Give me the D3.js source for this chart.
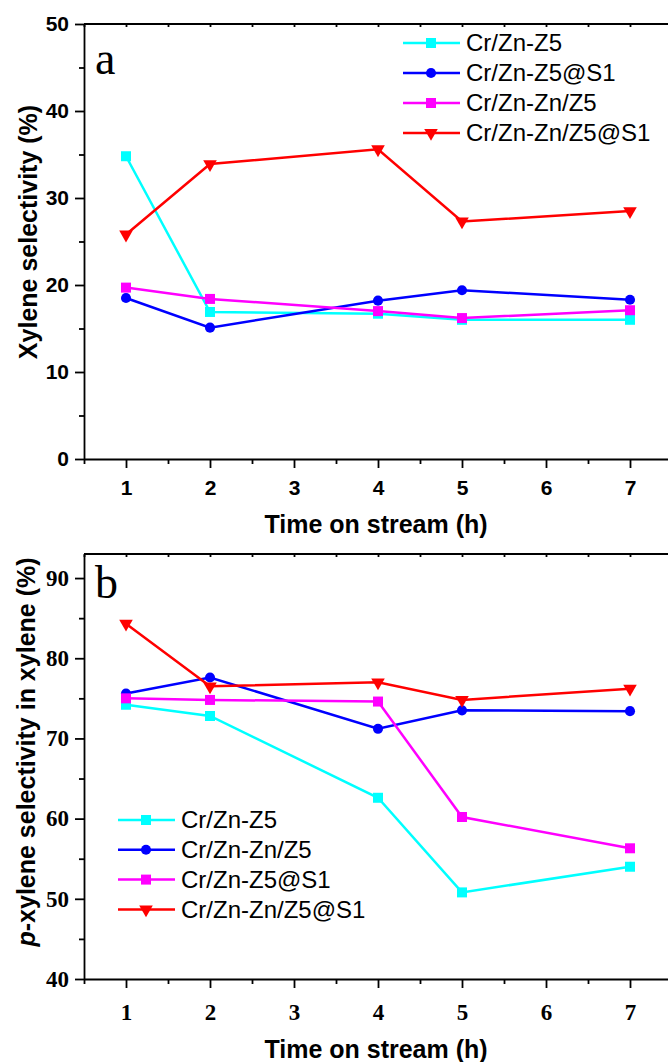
<!DOCTYPE html>
<html>
<head>
<meta charset="utf-8">
<script src="https://cdn.jsdelivr.net/npm/d3@7"></script>
<style>
  body { margin: 0; background: #fff; }
  svg { display: block; }
</style>
</head>
<body>
<div id="chart"></div>
<script>
// data
let hours = [1, 2, 4, 5, 7]
let xTickValues = [1, 2, 3, 4, 5, 6, 7]

// panel a: xylene selectivity (%)
let namesA = ['Cr/Zn-Z5', 'Cr/Zn-Z5@S1', 'Cr/Zn-Zn/Z5', 'Cr/Zn-Zn/Z5@S1']
let a_CrZnZ5 = [34.8, 16.9, 16.7, 16.0, 16.0]
let a_CrZnZ5S1 = [18.5, 15.1, 18.2, 19.4, 18.3]
let a_CrZnZnZ5 = [19.7, 18.4, 17.0, 16.2, 17.1]
let a_CrZnZnZ5S1 = [25.8, 33.9, 35.6, 27.3, 28.5]
let yTicksA = [0, 10, 20, 30, 40, 50]

// panel b: p-xylene selectivity in xylene (%)
let namesB = ['Cr/Zn-Z5', 'Cr/Zn-Zn/Z5', 'Cr/Zn-Z5@S1', 'Cr/Zn-Zn/Z5@S1']
let b_CrZnZ5 = [74.2, 72.8, 62.6, 50.8, 54.0]
let b_CrZnZnZ5 = [75.6, 77.6, 71.2, 73.5, 73.4]
let b_CrZnZ5S1 = [75.0, 74.8, 74.6, 60.2, 56.3]
let b_CrZnZnZ5S1 = [84.3, 76.5, 77.0, 74.8, 76.2]
let yTicksB = [40, 50, 60, 70, 80, 90]

let colors = ['#00ffff', '#0000ff', '#ff00ff', '#ff0000']
let shapes = ['square', 'circle', 'square', 'triangle']

let width = 668,
  height = 1062

let svg = d3.select('#chart')
  .append('svg')
  .attr('width', width)
  .attr('height', height)

let x = d3.scaleLinear()
  .domain([0.5, 7.5])
  .range([84, 672])

let sans = 'Liberation Sans, Arial, sans-serif'
let serif = 'Liberation Serif, Times New Roman, serif'

function marker(shape) {
  if (shape == 'circle') return d3.symbol().type(d3.symbolCircle).size(80)()
  if (shape == 'triangle') return d3.symbol().type(d3.symbolTriangle).size(80)()
  return d3.symbol().type(d3.symbolSquare).size(100)()
}

function drawMarker(g, shape, color, cx, cy) {
  g.append('path')
    .attr('d', marker(shape))
    .attr('fill', color)
    .attr('transform', `translate(${cx},${cy})` + (shape == 'triangle' ? ' rotate(180)' : ''))
}

function panel(cfg) {
  let y = d3.scaleLinear()
    .domain(cfg.domain)
    .range([cfg.bottom, cfg.top])

  let g = svg.append('g')

  // minor ticks
  let minorX = d3.range(0.5, 7.6, 0.5).filter(v => v % 1 != 0)
  g.append('g')
    .attr('transform', `translate(0,${cfg.bottom})`)
    .call(d3.axisBottom(x).tickValues(minorX).tickSize(5).tickFormat(''))
    .call(a => a.select('.domain').remove())
  g.append('g')
    .attr('transform', `translate(0,${cfg.top})`)
    .call(d3.axisTop(x).tickValues(minorX.concat(xTickValues)).tickSize(-3).tickFormat(''))
    .call(a => a.select('.domain').remove())
  let minorY = cfg.yTicks.slice(0, -1).map(v => v + 5)
  g.append('g')
    .attr('transform', `translate(${x(0.5)},0)`)
    .call(d3.axisLeft(y).tickValues(minorY).tickSize(5).tickFormat(''))
    .call(a => a.select('.domain').remove())

  // major axes
  let xa = g.append('g')
    .attr('transform', `translate(0,${cfg.bottom})`)
    .call(d3.axisBottom(x).tickValues(xTickValues).tickFormat(d3.format('d'))
      .tickSize(9).tickSizeOuter(0).tickPadding(cfg.xPad))
  xa.selectAll('text')
    .attr('font-family', cfg.tickFont)
    .attr('font-weight', 'bold')
    .attr('font-size', cfg.tickSize)
    .attr('fill', '#000')

  let ya = g.append('g')
    .attr('transform', `translate(${x(0.5)},0)`)
    .call(d3.axisLeft(y).tickValues(cfg.yTicks).tickFormat(d3.format('d'))
      .tickSize(9).tickSizeOuter(0).tickPadding(6))
  ya.selectAll('text')
    .attr('font-family', cfg.tickFont)
    .attr('font-weight', 'bold')
    .attr('font-size', cfg.tickSize)
    .attr('fill', '#000')

  // top border
  g.append('line')
    .attr('x1', x(0.5)).attr('x2', width)
    .attr('y1', cfg.top).attr('y2', cfg.top)
    .attr('stroke', '#000')

  g.selectAll('.domain, line').attr('stroke', '#000').attr('stroke-width', 1.8)

  // series
  let line = d3.line()
    .x((d, i) => x(hours[i]))
    .y(d => y(d))

  cfg.series.forEach((s, k) => {
    g.append('path')
      .datum(s)
      .attr('d', line)
      .attr('fill', 'none')
      .attr('stroke', colors[k])
      .attr('stroke-width', 2.5)
    s.forEach((v, i) => drawMarker(g, shapes[k], colors[k], x(hours[i]), y(v)))
  })

  // legend
  let lg = g.append('g')
  cfg.names.forEach((n, k) => {
    let ly = cfg.legY + k * cfg.legStep
    lg.append('line')
      .attr('x1', cfg.legX).attr('x2', cfg.legX + 57)
      .attr('y1', ly).attr('y2', ly)
      .attr('stroke', colors[k])
      .attr('stroke-width', 2.5)
    drawMarker(lg, shapes[k], colors[k], cfg.legX + 28, ly)
    lg.append('text')
      .attr('x', cfg.legX + 63)
      .attr('y', ly)
      .attr('dy', '0.35em')
      .attr('font-family', sans)
      .attr('font-size', 24)
      .text(n)
  })

  // panel letter
  g.append('text')
    .attr('x', 95)
    .attr('y', cfg.top + cfg.letterDy)
    .attr('font-family', serif)
    .attr('font-size', 46)
    .text(cfg.letter)

  // x title
  g.append('text')
    .attr('x', (x(0.5) + x(7.5)) / 2 - 2)
    .attr('y', cfg.xTitleY)
    .attr('text-anchor', 'middle')
    .attr('font-family', sans)
    .attr('font-weight', 'bold')
    .attr('font-size', 25)
    .text('Time on stream (h)')

  return g
}

panel({
  domain: [0, 50], top: 24, bottom: 459, yTicks: yTicksA,
  series: [a_CrZnZ5, a_CrZnZ5S1, a_CrZnZnZ5, a_CrZnZnZ5S1], names: namesA,
  tickFont: sans, tickSize: 21, xPad: 12,
  legX: 403, legY: 43, legStep: 30,
  letter: 'a', letterDy: 50, xTitleY: 533
})

panel({
  domain: [40, 93], top: 554, bottom: 979, yTicks: yTicksB,
  series: [b_CrZnZ5, b_CrZnZnZ5, b_CrZnZ5S1, b_CrZnZnZ5S1], names: namesB,
  tickFont: serif, tickSize: 23, xPad: 16,
  legX: 118, legY: 820, legStep: 29.8,
  letter: 'b', letterDy: 44, xTitleY: 1058
})

// y axis titles
svg.append('text')
  .attr('transform', 'translate(37,232) rotate(-90)')
  .attr('text-anchor', 'middle')
  .attr('font-family', sans)
  .attr('font-weight', 'bold')
  .attr('font-size', 25)
  .text('Xylene selectivity (%)')

let yt = svg.append('text')
  .attr('transform', 'translate(35,752) rotate(-90)')
  .attr('text-anchor', 'middle')
  .attr('font-family', sans)
  .attr('font-weight', 'bold')
  .attr('font-size', 25)
yt.append('tspan').attr('font-style', 'italic').text('p')
yt.append('tspan').text('-xylene selectivity in xylene (%)')
</script>
</body>
</html>
